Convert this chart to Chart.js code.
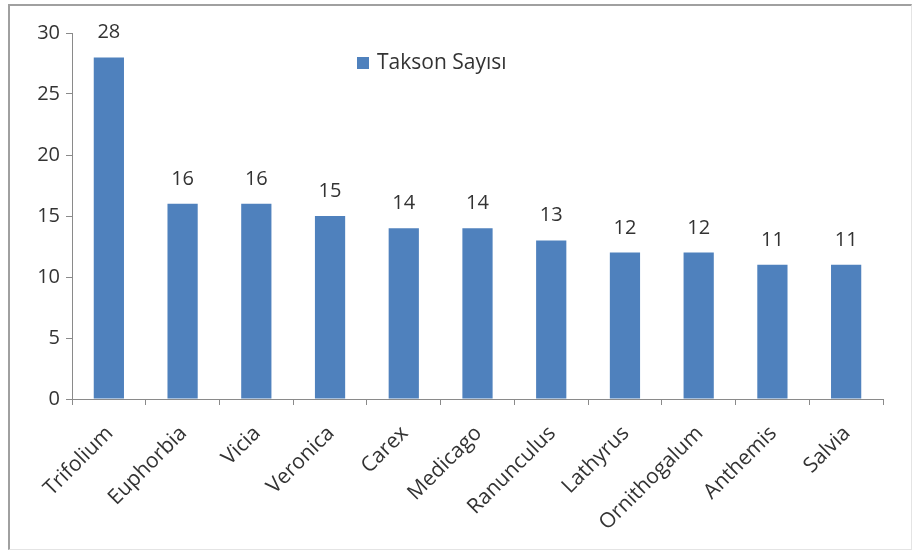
<!DOCTYPE html>
<html>
<head>
<meta charset="utf-8">
<script src="https://cdn.jsdelivr.net/npm/chart.js@4"></script>
<style>
    html, body { margin: 0; padding: 0; background: #fff; }
    #wrap { position: relative; width: 914px; height: 553px; }
    #frame {
        position: absolute; left: 8px; top: 4px; width: 904px; height: 546px;
        border-top: 2px solid #a0a0a0; border-left: 2px solid #a0a0a0;
        border-right: 1px solid #e4e4e4; border-bottom: 1px solid #e4e4e4;
        box-sizing: border-box;
    }
    canvas { position: absolute; left: 0; top: 0; }
</style>
</head>
<body>
<div id="wrap">
    <div id="frame"></div>
    <canvas id="chart" width="914" height="553"></canvas>
</div>
<script>
const categories = ["Trifolium", "Euphorbia", "Vicia", "Veronica", "Carex", "Medicago",
    "Ranunculus", "Lathyrus", "Ornithogalum", "Anthemis", "Salvia"];
const taksonSayisi = [28, 16, 16, 15, 14, 14, 13, 12, 12, 11, 11];
const seriesName = "Takson Sayısı";

const textColor = "#333333";
const barColor = "#4f81bd";
const axisColor = "#8a8a8a";
const fontFamily = "'Open Sans', sans-serif";

// value labels above each bar
const valueLabels = {
    id: "valueLabels",
    afterDatasetsDraw(chart) {
        const ctx = chart.ctx;
        const meta = chart.getDatasetMeta(0);
        ctx.save();
        ctx.font = `20px ${fontFamily}`;
        ctx.fillStyle = textColor;
        ctx.textAlign = "center";
        ctx.textBaseline = "alphabetic";
        meta.data.forEach((bar, i) => {
            ctx.fillText(chart.data.datasets[0].data[i], bar.x, bar.y - 19);
        });
        ctx.restore();
    }
};

// legend drawn inside the plot area
const innerLegend = {
    id: "innerLegend",
    afterDraw(chart) {
        const ctx = chart.ctx;
        ctx.save();
        ctx.fillStyle = barColor;
        ctx.fillRect(357, 57, 12, 12);
        ctx.font = `21px ${fontFamily}`;
        ctx.fillStyle = textColor;
        ctx.textBaseline = "middle";
        ctx.fillText(chart.data.datasets[0].label, 377, 63);
        ctx.restore();
    }
};

new Chart(document.getElementById("chart"), {
    type: "bar",
    data: {
        labels: categories,
        datasets: [{
            label: seriesName,
            data: taksonSayisi,
            backgroundColor: barColor,
            borderWidth: 0,
            categoryPercentage: 1,
            barPercentage: 0.41
        }]
    },
    options: {
        responsive: false,
        animation: false,
        layout: { padding: { left: 0, top: 33, right: 31, bottom: 0 } },
        plugins: {
            legend: { display: false },
            tooltip: { enabled: false }
        },
        scales: {
            y: {
                min: 0,
                max: 30,
                ticks: { stepSize: 5, color: textColor, font: { size: 20, family: fontFamily }, padding: 6 },
                grid: { drawOnChartArea: false, drawTicks: true, tickLength: 6, color: axisColor },
                border: { color: axisColor, width: 1 },
                afterFit(scale) { scale.width = 72; }
            },
            x: {
                ticks: {
                    color: textColor, font: { size: 21, family: fontFamily },
                    minRotation: 45, maxRotation: 45, padding: 16, labelOffset: 1, autoSkip: false
                },
                grid: { drawOnChartArea: false, drawTicks: true, tickLength: 6, color: axisColor, offset: true },
                border: { color: axisColor, width: 1 },
                afterFit(scale) { scale.height = 154; }
            }
        }
    },
    plugins: [valueLabels, innerLegend]
});
</script>
</body>
</html>
